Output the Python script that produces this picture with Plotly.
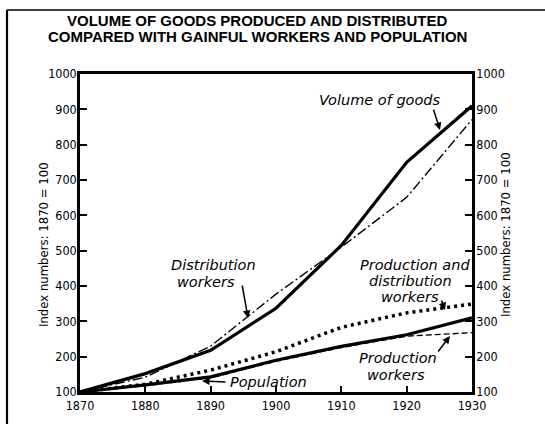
import plotly.graph_objects as go

years = [1870, 1880, 1890, 1900, 1910, 1920, 1930]
volume_of_goods = [100, 152, 218, 337, 515, 750, 910]
distribution_workers = [100, 142, 230, 377, 510, 651, 871]
prod_and_dist_workers = [100, 122, 162, 214, 283, 324, 349]
production_workers = [100, 118, 140, 187, 226, 258, 268]
population = [100, 120, 143, 190, 229, 262, 310]

y_ticks = [100, 200, 300, 400, 500, 600, 700, 800, 900, 1000]
x_ticks = [1870, 1880, 1890, 1900, 1910, 1920, 1930]

title_lines = ["VOLUME OF GOODS PRODUCED AND DISTRIBUTED",
               "COMPARED WITH GAINFUL WORKERS AND POPULATION"]
axis_title = "Index numbers: 1870 = 100"

TICKFONT = dict(family="DejaVu Sans Condensed, DejaVu Sans", size=12.5, color="black")
LABFONT = dict(family="DejaVu Sans", size=14.5, color="black")

fig = go.Figure()
fig.add_trace(go.Scatter(x=years, y=production_workers, mode="lines",
                         line=dict(color="black", width=1.4, dash="6px,3px"), hoverinfo="skip"))
fig.add_trace(go.Scatter(x=years, y=population, mode="lines",
                         line=dict(color="black", width=3.2), hoverinfo="skip"))
fig.add_trace(go.Scatter(x=years, y=prod_and_dist_workers, mode="lines",
                         line=dict(color="black", width=3.5, dash="3px,4px"), hoverinfo="skip"))
fig.add_trace(go.Scatter(x=years, y=distribution_workers, mode="lines",
                         line=dict(color="black", width=1.4, dash="10px,3px,2px,3px"), hoverinfo="skip"))
fig.add_trace(go.Scatter(x=years, y=volume_of_goods, mode="lines",
                         line=dict(color="black", width=3.2), hoverinfo="skip"))
# right-hand axis carrier (invisible)
fig.add_trace(go.Scatter(x=years, y=volume_of_goods, mode="lines", yaxis="y2",
                         line=dict(color="rgba(0,0,0,0)", width=0), hoverinfo="skip"))

fig.update_layout(
    width=545, height=424,
    margin=dict(l=80, r=73, t=74, b=32, pad=0),
    paper_bgcolor="white", plot_bgcolor="white",
    showlegend=False,
    xaxis=dict(range=[1870, 1930], tickvals=x_ticks, ticks="inside", ticklen=6,
               tickwidth=1.5, tickcolor="black", showgrid=False, zeroline=False,
               showline=True, linewidth=2.5, linecolor="black", mirror=True,
               tickfont=TICKFONT, ticklabelstandoff=0),
    yaxis=dict(range=[100, 1000], tickvals=y_ticks, ticks="inside", ticklen=7,
               tickwidth=1.5, tickcolor="black", showgrid=False, zeroline=False,
               showline=True, linewidth=2.5, linecolor="black",
               tickfont=TICKFONT, ticklabelstandoff=-2),
    yaxis2=dict(range=[100, 1000], tickvals=y_ticks, ticks="inside", ticklen=7,
                tickwidth=1.5, tickcolor="black", showgrid=False, zeroline=False,
                showline=True, linewidth=2.5, linecolor="black",
                overlaying="y", side="right", tickfont=TICKFONT, ticklabelstandoff=-1),
)

def px2data(px, py):
    return 1870 + (px - 80) / 392 * 60, 100 + (392 - py) / 318 * 900

ann = []
# title
for txt, py in zip(title_lines, [20.5, 36]):
    ann.append(dict(text="<b>" + txt + "</b>", xref="paper", yref="paper",
                    x=(257 - 80) / 392, y=(392 - py) / 318, showarrow=False,
                    xanchor="center", yanchor="middle",
                    font=dict(family="Liberation Sans", size=15, color="black")))
# axis titles
ann.append(dict(text=axis_title, xref="paper", yref="paper", x=(43 - 80) / 392,
                y=(392 - 245) / 318, textangle=-90, showarrow=False,
                xanchor="center", yanchor="middle",
                font=dict(family="DejaVu Sans Condensed, DejaVu Sans", size=13, color="black")))
ann.append(dict(text=axis_title, xref="paper", yref="paper", x=(505 - 80) / 392,
                y=(392 - 235) / 318, textangle=-90, showarrow=False,
                xanchor="center", yanchor="middle",
                font=dict(family="DejaVu Sans Condensed, DejaVu Sans", size=13, color="black")))

def label(text, px, py):
    x, y = px2data(px, py)
    ann.append(dict(text="<i>" + text + "</i>", x=x, y=y, showarrow=False,
                    xanchor="center", yanchor="middle", font=LABFONT))

def arrow(tail, head):
    x, y = px2data(*head)
    ann.append(dict(text="", x=x, y=y, ax=tail[0] - head[0], ay=tail[1] - head[1],
                    showarrow=True, arrowhead=2, arrowsize=1, arrowwidth=1.5,
                    arrowcolor="black", standoff=0))

label("Volume of goods", 380, 100)
arrow((433, 108), (440, 130))
label("Distribution", 213, 265)
label("workers", 206, 282)
arrow((242, 284), (248, 318))
label("Production and", 415, 265)
label("distribution", 410, 281)
label("workers", 410, 297)
arrow((441, 299), (445, 310))
label("Production", 398, 358)
label("workers", 396, 375)
arrow((437, 353), (450, 336))
label("Population", 268, 382)
arrow((227, 382), (202, 381))

fig.update_layout(annotations=ann)

# outer frame (left and top edges)
fx0 = (7 - 80) / 392
fy_top = (392 - 10) / 318
fig.add_shape(type="line", xref="paper", yref="paper", x0=fx0, x1=fx0,
              y0=fy_top, y1=-0.2, line=dict(color="black", width=2.2))
fig.add_shape(type="line", xref="paper", yref="paper", x0=fx0, x1=1.3,
              y0=fy_top, y1=fy_top, line=dict(color="black", width=1.6))

fig.write_html("out.html", config={"displayModeBar": False},
               post_script="document.body.style.margin='0';document.body.style.padding='0';")
